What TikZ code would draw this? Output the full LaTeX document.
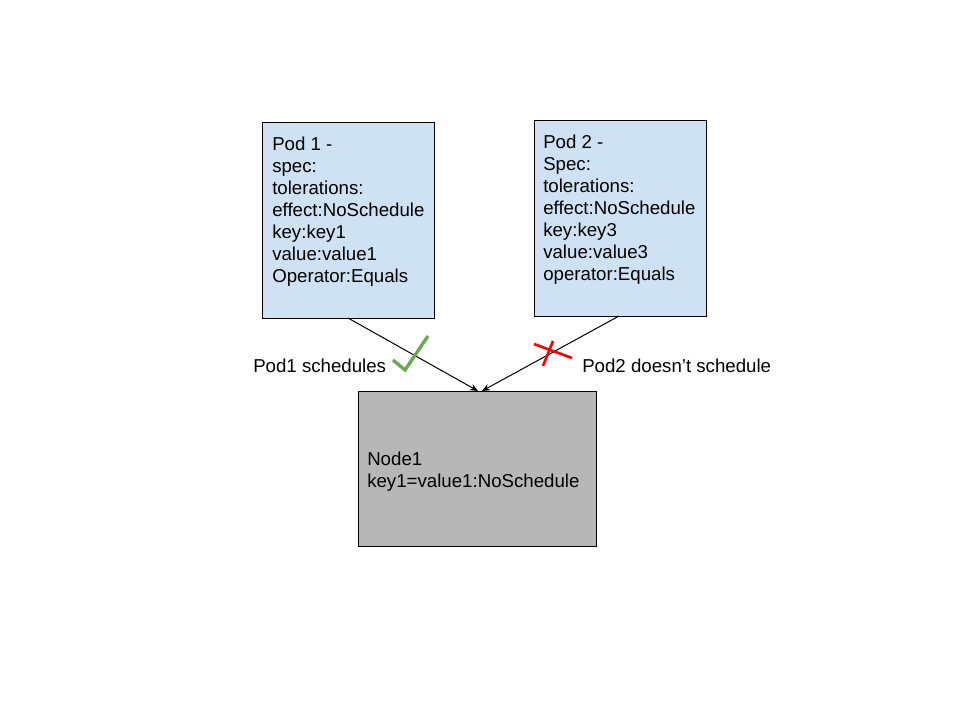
\documentclass[tikz,border=0pt]{standalone}
\usepackage{fontspec}
\setmainfont{Liberation Sans}
\usetikzlibrary{arrows.meta}
\definecolor{podblue}{HTML}{CFE2F3}
\definecolor{nodegray}{HTML}{B7B7B7}
\definecolor{okgreen}{HTML}{6AA84F}
\tikzset{
  box/.style={draw=black, line width=0.75pt, inner sep=0pt, anchor=north west},
  podbox/.style={box, fill=podblue},
  nodebox/.style={box, fill=nodegray},
  txt/.style={anchor=north west, inner sep=0pt, align=left, font=\fontsize{14pt}{16.5pt}\selectfont},
  lbl/.style={anchor=base west, inner sep=0pt, font=\fontsize{14pt}{16.5pt}\selectfont},
  conn/.style={line width=0.75pt, -{Stealth[length=6pt,width=5pt]}},
}
\begin{document}
\begin{tikzpicture}[x=0.75pt,y=-0.75pt]
\useasboundingbox (0,0) rectangle (960,720);
\node[podbox, minimum width=172*0.75pt, minimum height=196*0.75pt] (p1) at (262,122) {};
\node[podbox, minimum width=172*0.75pt, minimum height=196*0.75pt] (p2) at (534,120) {};
\node[nodebox, minimum width=238*0.75pt, minimum height=155*0.75pt] (n1) at (358,391) {};
\node[txt] (p1t) at (272,136.5) {Pod 1 -\\spec:\\tolerations:\\effect:NoSchedule\\key:key1\\value:value1\\Operator:Equals};
\node[txt] (p2t) at (543,134.5) {Pod 2 -\\Spec:\\tolerations:\\effect:NoSchedule\\key:key3\\value:value3\\operator:Equals};
\node[txt] (n1t) at (367,451.5) {Node1\\key1=value1:NoSchedule};
\coordinate (a1) at (348,318);
\coordinate (a2) at (619,316);
\coordinate (tip1) at (478,391);
\coordinate (tip2) at (482,391);
\draw[conn] (a1) -- (tip1);
\draw[conn] (a2) -- (tip2);
\node[lbl] (l1) at (253,372) {Pod1 schedules};
\node[lbl] (l2) at (582,372) {Pod2 doesn’t schedule};
\draw[okgreen, line width=2.5pt] (393,360) -- (405,370) -- (428,336);
\draw[red, line width=2pt] (534,344) -- (572,358);
\draw[red, line width=2pt] (553,341) -- (543,366);
\end{tikzpicture}
\end{document}
